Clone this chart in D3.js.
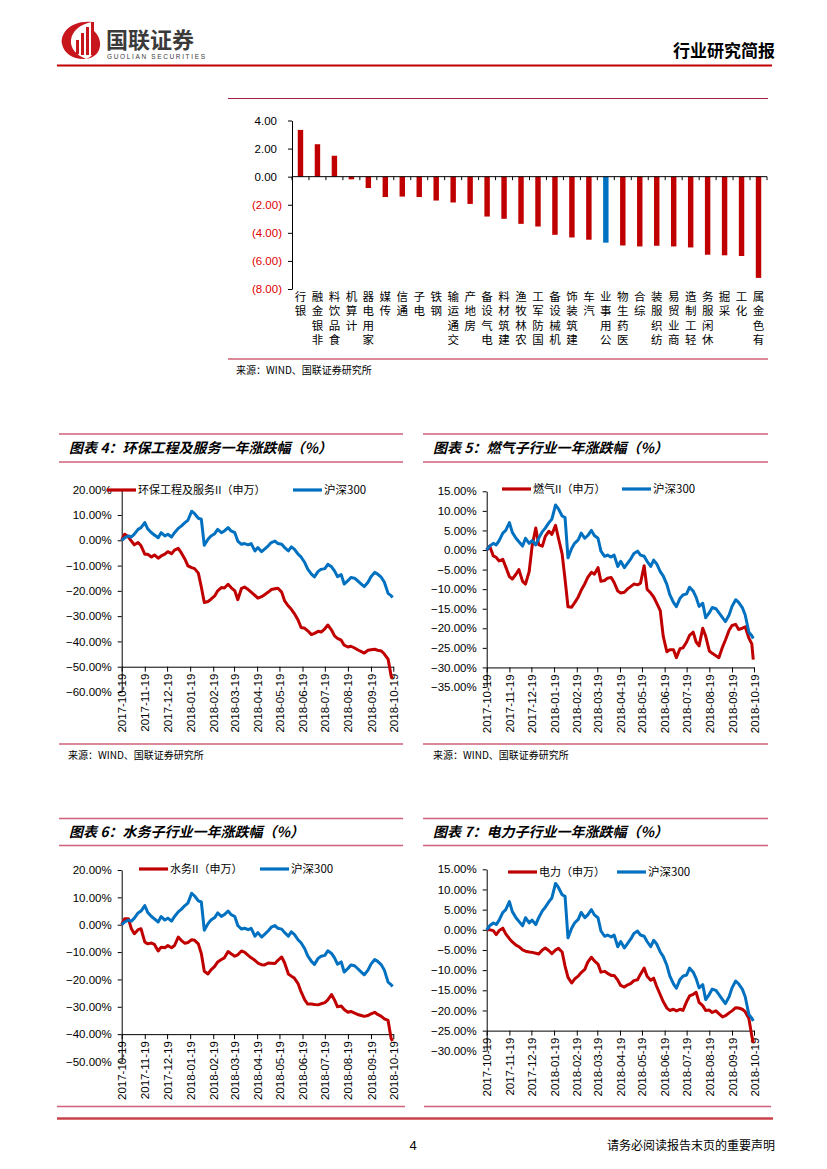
<!DOCTYPE html>
<html>
<head>
<meta charset="utf-8">
<script src="https://cdn.jsdelivr.net/npm/d3@7"></script>
<style>
  body { margin: 0; background: #fff; }
  svg { display: block; }
</style>
</head>
<body>
<script>
// ---- bar chart data: industry returns (%) ----
var barCats = ["银行", "非银金融", "食品饮料", "计算机", "家用电器", "传媒", "通信", "电子", "钢铁", "交通运输",
  "房地产", "电气设备", "建筑材料", "农林牧渔", "国防军工", "机械设备", "建筑装饰", "汽车", "公用事业", "医药生物",
  "综合", "纺织服装", "商业贸易", "轻工制造", "休闲服务", "采掘", "化工", "有色金属"];
var barVals = [3.33, 2.31, 1.49, -0.19, -0.81, -1.45, -1.42, -1.45, -1.70, -1.84,
  -1.94, -2.84, -3.00, -3.36, -3.55, -4.14, -4.33, -4.49, -4.70, -4.90,
  -4.97, -4.92, -4.97, -5.04, -5.56, -5.60, -5.65, -7.21];
var barHighlight = "公用事业";
var barTicks = [4, 2, 0, -2, -4, -6, -8];

// ---- line charts: shared dates ----
var dates = ["2017-10-19","2017-10-23","2017-10-28","2017-11-01","2017-11-05","2017-11-10","2017-11-14","2017-11-19","2017-11-23","2017-11-28",
  "2017-12-02","2017-12-07","2017-12-11","2017-12-16","2017-12-20","2017-12-25","2017-12-29","2018-01-03","2018-01-07","2018-01-12",
  "2018-01-16","2018-01-21","2018-01-25","2018-01-30","2018-02-03","2018-02-07","2018-02-12","2018-02-16","2018-02-21","2018-02-25",
  "2018-03-02","2018-03-06","2018-03-11","2018-03-15","2018-03-20","2018-03-24","2018-03-29","2018-04-02","2018-04-07","2018-04-11",
  "2018-04-16","2018-04-20","2018-04-25","2018-04-29","2018-05-04","2018-05-08","2018-05-13","2018-05-17","2018-05-22","2018-05-26",
  "2018-05-31","2018-06-04","2018-06-08","2018-06-13","2018-06-17","2018-06-22","2018-06-26","2018-07-01","2018-07-05","2018-07-10",
  "2018-07-14","2018-07-19","2018-07-23","2018-07-28","2018-08-01","2018-08-05","2018-08-10","2018-08-14","2018-08-19","2018-08-23",
  "2018-08-28","2018-09-01","2018-09-06","2018-09-10","2018-09-15","2018-09-19","2018-09-24","2018-09-28","2018-10-03","2018-10-07",
  "2018-10-12","2018-10-16","2018-10-18"];

var monthTicks = ["2017-10-19","2017-11-19","2017-12-19","2018-01-19","2018-02-19","2018-03-19","2018-04-19",
  "2018-05-19","2018-06-19","2018-07-19","2018-08-19","2018-09-19","2018-10-19"];

// 沪深300
var hs300 = [0, 1.0, 1.7, 1.3, 2.4, 4.3, 5.0, 7.0, 4.5, 3.0,
  2.1, 1.0, 3.0, 1.7, 2.4, 1.3, 3.0, 4.7, 5.6, 7.0,
  7.9, 11.5, 10.5, 8.7, 8.3, -2.0, 0.4, 1.7, 2.6, 4.3,
  3.0, 3.7, 5.0, 3.7, 3.0, -0.3, -1.6, -1.3, -1.8, -1.3,
  -4.2, -2.9, -4.5, -3.5, -2.2, -0.9, -0.3, -1.3, -1.6, -2.9,
  -4.2, -2.6, -3.5, -5.5, -6.6, -8.8, -11.4, -13.4, -14.5, -12.3,
  -11.5, -11.2, -9.5, -10.5, -12.1, -14.4, -13.6, -17.3, -16.0, -14.7,
  -15.0, -16.0, -17.3, -18.3, -16.6, -14.4, -12.7, -13.4, -14.7, -16.6,
  -21.0, -21.9, -22.6];

// 环保工程及服务II
var huanbao = [0, 2.4, 1.3, -0.3, -1.8, -0.9, -2.2, -5.5, -5.5, -6.6,
  -5.8, -7.1, -6.2, -5.5, -4.5, -5.3, -3.9, -3.2, -4.9, -7.5,
  -10.1, -10.8, -11.2, -13.0, -18.5, -24.6, -24.2, -23.3, -22.0, -20.0,
  -18.7, -18.9, -17.4, -18.7, -20.0, -23.5, -19.0, -18.5, -19.5, -20.5,
  -21.8, -22.9, -22.3, -21.5, -20.5, -19.5, -19.2, -19.0, -20.5, -24.0,
  -26.0, -27.3, -29.0, -31.5, -34.5, -34.8, -35.8, -37.3, -36.8, -36.0,
  -36.3, -35.0, -33.5, -35.5, -37.8, -38.8, -39.5, -41.5, -42.2, -41.9,
  -42.6, -43.3, -44.0, -44.6, -43.5, -43.3, -43.1, -43.5, -43.8, -45.0,
  -47.0, -53.5, -54.7];

// 燃气II
var ranqi = [0, 1.0, -1.5, -1.9, -2.8, -2.4, -4.3, -6.8, -7.4, -6.2,
  -5.0, -8.0, -8.7, -5.5, 1.0, 5.6, 1.4, 1.0, 3.5, 4.8,
  4.0, 6.3, 3.0, -1.0, -7.5, -14.5, -14.6, -13.5, -12.0, -10.3,
  -8.6, -7.0, -5.7, -6.2, -4.5, -8.0, -7.8, -7.2, -7.0, -8.3,
  -10.5, -11.0, -10.8, -10.0, -9.3, -8.7, -8.9, -8.5, -4.0, -10.0,
  -11.0, -12.0, -13.5, -15.5, -22.0, -26.0, -25.5, -25.5, -27.5, -25.2,
  -25.0, -23.5, -21.8, -21.0, -23.5, -24.5, -20.0, -22.0, -25.8, -26.4,
  -27.0, -27.5, -24.8, -23.0, -20.5, -19.3, -19.0, -20.3, -20.0, -19.6,
  -22.5, -24.0, -28.0];

// 水务II
var shuiwu = [0, 2.2, 2.2, -1.5, -3.3, -1.8, -1.5, -6.3, -7.0, -6.7,
  -7.2, -9.6, -8.2, -8.4, -7.6, -8.4, -7.6, -4.5, -5.7, -6.8,
  -6.5, -5.5, -5.7, -7.0, -10.5, -17.0, -18.0, -16.5, -15.2, -13.6,
  -12.7, -12.1, -9.8, -10.6, -11.5, -11.0, -9.6, -10.0, -11.2, -12.1,
  -13.0, -14.0, -14.6, -14.7, -14.0, -14.1, -14.2, -13.0, -11.8, -14.0,
  -18.0, -18.8, -19.5, -21.5, -24.5, -27.5, -29.0, -29.0, -29.2, -29.3,
  -28.9, -28.5, -27.5, -25.5, -27.5, -30.0, -29.7, -31.0, -32.0, -31.7,
  -32.3, -32.8, -33.2, -33.5, -33.2, -32.6, -32.0, -32.8, -33.5, -34.4,
  -35.0, -41.5, -42.5];

// 电力
var dianli = [0, 0, -0.2, -1.2, -0.2, 0.4, -1.0, -2.2, -3.0, -3.8,
  -4.2, -5.0, -5.3, -5.5, -5.6, -5.8, -6.0, -5.0, -4.5, -5.2,
  -5.9, -5.0, -4.6, -5.5, -9.0, -11.8, -13.2, -12.2, -11.5, -10.6,
  -9.8, -8.0, -6.8, -7.7, -8.5, -10.5, -10.3, -10.8, -11.3, -11.3,
  -12.5, -13.8, -14.2, -13.7, -13.3, -12.6, -12.4, -11.0, -9.5, -11.5,
  -12.5, -12.0, -14.0, -16.1, -17.8, -19.4, -20.0, -19.7, -20.1, -19.7,
  -20.0, -17.8, -16.4, -16.0, -15.5, -18.0, -18.8, -20.0, -19.9, -20.5,
  -20.1, -20.8, -21.6, -21.3, -20.6, -20.1, -19.3, -19.4, -19.7, -20.3,
  -22.0, -26.3, -28.0];

var RED = "#c00000", BLUE = "#0070c0";
var CJK = "'Noto Sans CJK SC', sans-serif";
var NUM = "'Liberation Sans', Arial, sans-serif";
var parse = d3.timeParse("%Y-%m-%d");

var svg = d3.select("body").append("svg")
    .attr("width", 827).attr("height", 1169)
    .style("font-family", CJK);

// ---------- header ----------
var logo = svg.append("g");
logo.append("path")
    .attr("d", "M92,22 C70,20 60,34 62,44 C64,54 74,60 86,59 C76,55 70,48 71,40 C72,31 80,24 92,22 Z")
    .attr("fill", "#c8161d");
logo.append("path")
    .attr("d", "M86,59 C96,58 101,50 100,42 C99,36 96,33 94,31 L94,52 C92,56 89,58 86,59 Z")
    .attr("fill", "#c8161d");
[[76, 40, 3, 14], [81, 33, 3, 22], [86, 27, 3, 28], [91, 22, 3, 33]].forEach(function(b) {
  logo.append("rect").attr("x", b[0]).attr("y", b[1]).attr("width", b[2]).attr("height", b[3]).attr("fill", "#c8161d");
});
svg.append("text").attr("x", 106).attr("y", 48).attr("font-size", 22).attr("font-weight", "bold")
    .attr("fill", "#3a3a3a").text("国联证券");
svg.append("text").attr("x", 107).attr("y", 59).attr("font-size", 6.5).attr("font-family", NUM)
    .attr("fill", "#3a3a3a").attr("textLength", 98).text("GUOLIAN SECURITIES");
svg.append("text").attr("x", 775).attr("y", 57).attr("text-anchor", "end").attr("font-size", 17)
    .attr("font-weight", "bold").attr("fill", "#000").text("行业研究简报");
svg.append("line").attr("x1", 57).attr("x2", 772).attr("y1", 65.5).attr("y2", 65.5)
    .attr("stroke", "#c00000").attr("stroke-width", 1.8);

// ---------- bar chart ----------
svg.append("line").attr("x1", 228).attr("x2", 768).attr("y1", 98.5).attr("y2", 98.5)
    .attr("stroke", "#9e1f3f").attr("stroke-width", 1.2);

var xb = d3.scaleBand().domain(barCats).range([292, 767]).paddingInner(0.68).paddingOuter(0.34);
var yb = d3.scaleLinear().domain([-8, 4]).range([289, 120.5]);
var gb = svg.append("g");

gb.selectAll(".bar").data(barCats).enter().append("rect")
    .attr("class", "bar")
    .attr("x", function(d) { return xb(d); })
    .attr("width", xb.bandwidth())
    .attr("y", function(d, i) { return yb(Math.max(0, barVals[i])); })
    .attr("height", function(d, i) { return Math.abs(yb(barVals[i]) - yb(0)); })
    .attr("fill", function(d) { return d === barHighlight ? BLUE : RED; });

var yAxisB = gb.append("g").attr("transform", "translate(292,0)")
    .call(d3.axisLeft(yb).tickValues(barTicks).tickSize(4).tickSizeOuter(0).tickPadding(6)
      .tickFormat(function(d) { return d < 0 ? "(" + d3.format(".2f")(-d) + ")" : d3.format(".2f")(d); }));
yAxisB.selectAll("text").attr("font-family", NUM).attr("font-size", 11.5)
    .attr("fill", function(d) { return d < 0 ? "#e00000" : "#000"; })
    .attr("dx", function(d) { return d < 0 ? 0 : -5; });
yAxisB.selectAll("path, line").attr("stroke", "#000");

// zero line with ticks between categories
gb.append("line").attr("x1", 292).attr("x2", 767).attr("y1", yb(0)).attr("y2", yb(0)).attr("stroke", "#000");
var bounds = barCats.map(function(d) { return xb(d) - (xb.step() - xb.bandwidth()) / 2; }).concat([767]);
gb.selectAll(".btick").data(bounds).enter().append("line")
    .attr("x1", function(d) { return d; }).attr("x2", function(d) { return d; })
    .attr("y1", yb(0)).attr("y2", yb(0) + 3.5).attr("stroke", "#000");

// vertical stacked category labels (last character on top)
gb.selectAll(".cat").data(barCats).enter().append("text")
    .attr("class", "cat")
    .attr("font-size", 11.5)
    .attr("text-anchor", "middle")
    .attr("fill", "#000")
    .each(function(d) {
      var cx = xb(d) + xb.bandwidth() / 2, t = d3.select(this);
      d.split("").reverse().forEach(function(c, j) {
        t.append("tspan").attr("x", cx).attr("y", 301 + j * 14.3).text(c);
      });
    });

svg.append("line").attr("x1", 228).attr("x2", 768).attr("y1", 359).attr("y2", 359)
    .attr("stroke", "#d0607a").attr("stroke-width", 1.5);
svg.append("text").attr("x", 236).attr("y", 374).attr("font-size", 10).attr("fill", "#000")
    .text("来源：WIND、国联证券研究所");

// ---------- line charts ----------
function sectionFrame(x1, x2, yTop, yBot, title) {
  svg.append("line").attr("x1", x1).attr("x2", x2).attr("y1", yTop).attr("y2", yTop)
      .attr("stroke", "#d0607a").attr("stroke-width", 1.3);
  svg.append("line").attr("x1", x1).attr("x2", x2).attr("y1", yBot).attr("y2", yBot)
      .attr("stroke", "#d0607a").attr("stroke-width", 1.3);
  svg.append("text").attr("x", x1 + 10).attr("y", (yTop + yBot) / 2 + 5).attr("font-size", 14)
      .attr("font-weight", "bold").attr("font-style", "italic").attr("fill", "#000").text(title);
}

function lineChart(o) {
  var x = d3.scaleTime().domain([parse(monthTicks[0]), parse(monthTicks[monthTicks.length - 1])]).range([o.x0, o.x1]);
  var y = d3.scaleLinear().domain([o.yMin, o.yMax]).range([o.yBot, o.yTop]);
  var g = svg.append("g");

  var ya = g.append("g").attr("transform", "translate(" + o.x0 + ",0)")
      .call(d3.axisLeft(y).tickValues(d3.range(o.yMax, o.yMin - 0.01, -o.yStep))
        .tickSize(4).tickSizeOuter(0).tickPadding(6)
        .tickFormat(function(d) { return d3.format(".2f")(d) + "%"; }));
  ya.selectAll("text").attr("font-family", NUM).attr("font-size", 11.5).attr("fill", "#000");
  ya.selectAll("path, line").attr("stroke", "#000");

  var xa = g.append("g").attr("transform", "translate(0," + y(o.cross) + ")")
      .call(d3.axisBottom(x).tickValues(monthTicks.map(parse)).tickSize(5).tickSizeOuter(0)
        .tickFormat(function(d, i) { return monthTicks[i]; }));
  xa.selectAll("text").attr("font-family", NUM).attr("font-size", 11.5).attr("fill", "#000")
      .attr("transform", "rotate(-90)").attr("text-anchor", "end")
      .attr("x", -7).attr("y", 0).attr("dy", "0.35em");
  xa.selectAll("path, line").attr("stroke", "#000");

  var line = d3.line()
      .x(function(d, i) { return x(parse(dates[i])); })
      .y(function(d) { return y(d); });

  g.append("path").datum(o.series).attr("d", line).attr("fill", "none")
      .attr("stroke", RED).attr("stroke-width", 3).attr("stroke-linejoin", "round");
  g.append("path").datum(hs300).attr("d", line).attr("fill", "none")
      .attr("stroke", BLUE).attr("stroke-width", 3).attr("stroke-linejoin", "round");

  // legend
  var lg = g.append("g").attr("font-size", 11);
  lg.append("line").attr("x1", o.leg[0]).attr("x2", o.leg[0] + 29).attr("y1", o.legY).attr("y2", o.legY)
      .attr("stroke", RED).attr("stroke-width", 3.2);
  lg.append("text").attr("x", o.leg[0] + 31).attr("y", o.legY + 4).attr("fill", "#000").text(o.name);
  lg.append("line").attr("x1", o.leg[1]).attr("x2", o.leg[1] + 29).attr("y1", o.legY).attr("y2", o.legY)
      .attr("stroke", BLUE).attr("stroke-width", 3.2);
  lg.append("text").attr("x", o.leg[1] + 31).attr("y", o.legY + 4).attr("fill", "#000")
      .attr("font-size", 11.5).text("沪深300");
}

// chart 4
sectionFrame(59, 403, 434, 462, "图表 4：环保工程及服务一年涨跌幅（%）");
lineChart({x0: 121.7, x1: 393.3, yMin: -60, yMax: 20, yStep: 10, yTop: 489.7, yBot: 692, cross: -50,
  series: huanbao, name: "环保工程及服务II（申万）", leg: [107, 293], legY: 490});
svg.append("line").attr("x1", 59).attr("x2", 403).attr("y1", 744).attr("y2", 744)
    .attr("stroke", "#d0607a").attr("stroke-width", 1.3);
svg.append("text").attr("x", 68).attr("y", 759).attr("font-size", 10).text("来源：WIND、国联证券研究所");

// chart 5
sectionFrame(423, 768, 434, 462, "图表 5：燃气子行业一年涨跌幅（%）");
lineChart({x0: 486.7, x1: 754, yMin: -35, yMax: 15, yStep: 5, yTop: 491.3, yBot: 687, cross: -30,
  series: ranqi, name: "燃气II（申万）", leg: [502, 622], legY: 489});
svg.append("line").attr("x1", 423).attr("x2", 768).attr("y1", 744).attr("y2", 744)
    .attr("stroke", "#d0607a").attr("stroke-width", 1.3);
svg.append("text").attr("x", 433).attr("y", 759).attr("font-size", 10).text("来源：WIND、国联证券研究所");

// chart 6
sectionFrame(59, 403, 818.5, 845.5, "图表 6：水务子行业一年涨跌幅（%）");
lineChart({x0: 121.7, x1: 393.3, yMin: -50, yMax: 20, yStep: 10, yTop: 870, yBot: 1061.5, cross: -40,
  series: shuiwu, name: "水务II（申万）", leg: [139, 260], legY: 869});
svg.append("line").attr("x1", 57).attr("x2", 405).attr("y1", 1106.5).attr("y2", 1106.5)
    .attr("stroke", "#d0607a").attr("stroke-width", 1.3);

// chart 7
sectionFrame(423, 768, 818.5, 845.5, "图表 7：电力子行业一年涨跌幅（%）");
lineChart({x0: 486.7, x1: 754, yMin: -30, yMax: 15, yStep: 5, yTop: 869.3, yBot: 1050.8, cross: -25,
  series: dianli, name: "电力（申万）", leg: [508, 617], legY: 872});
svg.append("line").attr("x1", 424).attr("x2", 771).attr("y1", 1106.5).attr("y2", 1106.5)
    .attr("stroke", "#d0607a").attr("stroke-width", 1.3);

// ---------- footer ----------
svg.append("line").attr("x1", 57).attr("x2", 773).attr("y1", 1118.5).attr("y2", 1118.5)
    .attr("stroke", "#c8434b").attr("stroke-width", 2.5);
svg.append("text").attr("x", 413).attr("y", 1150).attr("text-anchor", "middle").attr("font-size", 13)
    .attr("font-family", NUM).text("4");
svg.append("text").attr("x", 775).attr("y", 1150).attr("text-anchor", "end").attr("font-size", 12)
    .text("请务必阅读报告末页的重要声明");
</script>
</body>
</html>
